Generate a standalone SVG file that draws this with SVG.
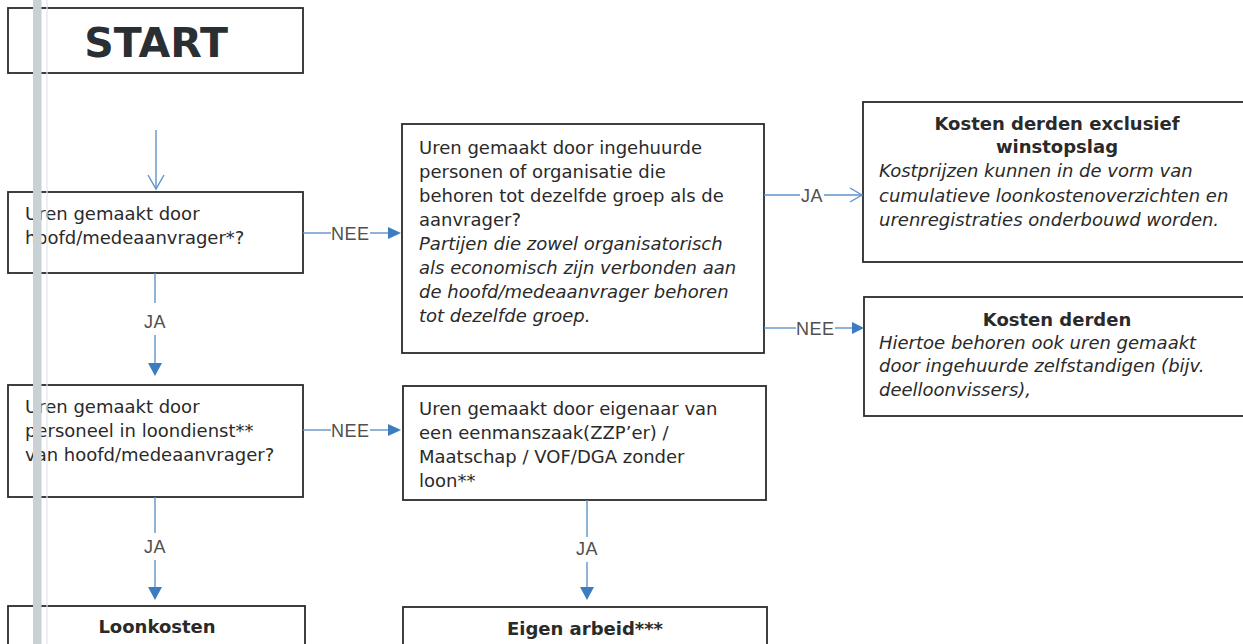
<svg xmlns="http://www.w3.org/2000/svg" width="1243" height="644" viewBox="0 0 1243 644">
<defs>
<style>
.box{fill:#fff;stroke:#2b2b2b;stroke-width:1.8}
.t{font-family:"DejaVu Sans",Verdana,sans-serif;font-size:18px;fill:#2a2a2a}
.i{font-style:italic}
.b{font-weight:bold;text-anchor:middle}
.lbl{font-family:"Liberation Sans",Arial,sans-serif;font-size:18px;fill:#505050;letter-spacing:0.5px}
.ln{stroke:#5f93c9;stroke-width:1.4;fill:none}
.open{stroke:#5f93c9;stroke-width:1.4;fill:none}
.head{fill:#3b7dc0}
</style>
</defs>
<rect width="1243" height="644" fill="#fff"/>

<g id="start">
<rect class="box" x="8" y="8" width="295" height="65"/>
<text x="156" y="57" font-family="'DejaVu Sans',Verdana,sans-serif" font-size="41" font-weight="bold" fill="#2a2f33" text-anchor="middle">START</text>
</g>

<g id="q1">
<rect class="box" x="8" y="192" width="295" height="81"/>
<text class="t" x="25" y="220">Uren gemaakt door</text>
<text class="t" x="25" y="244">hoofd/medeaanvrager*?</text>
</g>

<g id="q2">
<rect class="box" x="8" y="385" width="295" height="112"/>
<text class="t" x="25" y="413">Uren gemaakt door</text>
<text class="t" x="25" y="437">personeel in loondienst**</text>
<text class="t" x="25" y="461">van hoofd/medeaanvrager?</text>
</g>

<g id="q3">
<rect class="box" x="402" y="124" width="362" height="229"/>
<text class="t" x="419" y="154">Uren gemaakt door ingehuurde</text>
<text class="t" x="419" y="178">personen of organisatie die</text>
<text class="t" x="419" y="202">behoren tot dezelfde groep als de</text>
<text class="t" x="419" y="226">aanvrager?</text>
<text class="t i" x="419" y="250">Partijen die zowel organisatorisch</text>
<text class="t i" x="419" y="274">als economisch zijn verbonden aan</text>
<text class="t i" x="419" y="298">de hoofd/medeaanvrager behoren</text>
<text class="t i" x="419" y="322">tot dezelfde groep.</text>
</g>

<g id="q4">
<rect class="box" x="403" y="386" width="363" height="114"/>
<text class="t" x="419" y="415">Uren gemaakt door eigenaar van</text>
<text class="t" x="419" y="439">een eenmanszaak(ZZP’er) /</text>
<text class="t" x="419" y="463">Maatschap / VOF/DGA zonder</text>
<text class="t" x="419" y="487">loon**</text>
</g>

<g id="kosten-excl">
<rect class="box" x="863" y="102" width="400" height="160"/>
<text class="t b" x="1057" y="130">Kosten derden exclusief</text>
<text class="t b" x="1057" y="153">winstopslag</text>
<text class="t i" x="879" y="177">Kostprijzen kunnen in de vorm van</text>
<text class="t i" x="879" y="202">cumulatieve loonkostenoverzichten en</text>
<text class="t i" x="879" y="226">urenregistraties onderbouwd worden.</text>
</g>

<g id="kosten-derden">
<rect class="box" x="864" y="297" width="400" height="119"/>
<text class="t b" x="1057" y="326">Kosten derden</text>
<text class="t i" x="879" y="349">Hiertoe behoren ook uren gemaakt</text>
<text class="t i" x="879" y="372">door ingehuurde zelfstandigen (bijv.</text>
<text class="t i" x="879" y="396">deelloonvissers),</text>
</g>

<g id="loonkosten">
<rect class="box" x="8" y="606" width="297" height="60"/>
<text class="t b" x="157" y="633">Loonkosten</text>
</g>

<g id="eigen-arbeid">
<rect class="box" x="403" y="607" width="364" height="60"/>
<text class="t b" x="585" y="635">Eigen arbeid***</text>
</g>

<g id="connectors">
<!-- start -> q1 -->
<line class="ln" x1="156" y1="130" x2="156" y2="189"/>
<polyline class="open" points="148,175 156,189 164,175"/>
<!-- q1 NEE -> q3 -->
<line class="ln" x1="303" y1="233" x2="331" y2="233"/>
<text class="lbl" x="331" y="239.5">NEE</text>
<line class="ln" x1="370" y1="233" x2="390" y2="233"/>
<polygon class="head" points="388,227 401,233 388,239"/>
<!-- q1 JA -> q2 -->
<line class="ln" x1="155" y1="273" x2="155" y2="303"/>
<text class="lbl" x="155" y="328" text-anchor="middle">JA</text>
<line class="ln" x1="155" y1="335" x2="155" y2="366"/>
<polygon class="head" points="148,363 162,363 155,376"/>
<!-- q2 NEE -> q4 -->
<line class="ln" x1="303" y1="430" x2="331" y2="430"/>
<text class="lbl" x="331" y="436.5">NEE</text>
<line class="ln" x1="370" y1="430" x2="390" y2="430"/>
<polygon class="head" points="388,424 401,430 388,436"/>
<!-- q2 JA -> loonkosten -->
<line class="ln" x1="155" y1="497" x2="155" y2="533"/>
<text class="lbl" x="155" y="553" text-anchor="middle">JA</text>
<line class="ln" x1="155" y1="560" x2="155" y2="590"/>
<polygon class="head" points="148,587 162,587 155,600"/>
<!-- q3 JA -> kosten excl -->
<line class="ln" x1="764" y1="195" x2="800" y2="195"/>
<text class="lbl" x="801" y="201.5">JA</text>
<line class="ln" x1="824" y1="195" x2="862" y2="195"/>
<polyline class="open" points="850,188 862,195 850,202"/>
<!-- q3 NEE -> kosten derden -->
<line class="ln" x1="764" y1="328" x2="796" y2="328"/>
<text class="lbl" x="796" y="334.5">NEE</text>
<line class="ln" x1="835" y1="328" x2="854" y2="328"/>
<polygon class="head" points="852,322 864,328 852,334"/>
<!-- q4 JA -> eigen arbeid -->
<line class="ln" x1="587" y1="500" x2="587" y2="537"/>
<text class="lbl" x="587" y="555" text-anchor="middle">JA</text>
<line class="ln" x1="587" y1="562" x2="587" y2="590"/>
<polygon class="head" points="580,587 594,587 587,600"/>
</g>

<g id="scan-bar">
<rect x="33" y="0" width="8.5" height="644" fill="#c9d1d5"/>
<line x1="47" y1="0" x2="47" y2="644" stroke="#e2e7e9" stroke-width="1.2"/>
</g>
</svg>
